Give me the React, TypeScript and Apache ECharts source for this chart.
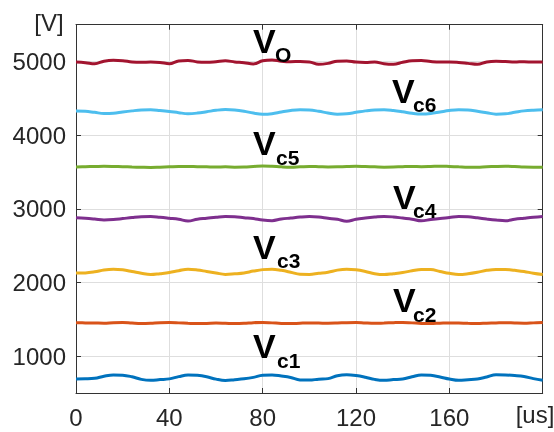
import React, { useEffect, useRef } from "react";
import * as echarts from "echarts";

const timeUs = [0, 4, 8, 12, 16, 20, 24, 28, 32, 36, 40, 44, 48, 52, 56, 60, 64, 68, 72, 76, 80, 84, 88, 92, 96, 100, 104, 108, 112, 116, 120, 124, 128, 132, 136, 140, 144, 148, 152, 156, 160, 164, 168, 172, 176, 180, 184, 188, 192, 196, 200];

const vo = [4992, 4985, 4970, 5005, 5018, 5012, 4995, 4990, 4993, 4988, 4970, 5008, 5015, 4995, 4990, 4998, 5010, 4995, 4985, 4968, 5010, 5022, 5005, 4998, 5000, 4995, 4962, 4975, 5005, 5008, 4992, 4988, 4993, 4970, 4962, 4990, 5012, 5015, 5000, 4992, 4995, 4988, 4975, 4962, 4995, 5005, 5000, 4993, 4998, 4992, 4995];
const vc6 = [4328, 4325, 4310, 4295, 4298, 4315, 4330, 4342, 4345, 4335, 4322, 4305, 4292, 4300, 4318, 4338, 4348, 4342, 4325, 4300, 4285, 4292, 4315, 4335, 4345, 4342, 4325, 4302, 4285, 4290, 4310, 4330, 4343, 4345, 4335, 4318, 4298, 4288, 4295, 4315, 4335, 4345, 4342, 4325, 4305, 4285, 4290, 4310, 4330, 4340, 4345];
const vc5 = [3568, 3572, 3575, 3578, 3576, 3572, 3568, 3565, 3563, 3566, 3570, 3574, 3575, 3572, 3570, 3568, 3570, 3566, 3568, 3575, 3582, 3578, 3570, 3566, 3570, 3575, 3572, 3568, 3570, 3575, 3578, 3574, 3570, 3566, 3568, 3573, 3576, 3572, 3575, 3580, 3576, 3570, 3565, 3566, 3572, 3576, 3578, 3574, 3568, 3565, 3564];
const vc4 = [2878, 2872, 2862, 2850, 2855, 2868, 2882, 2893, 2895, 2885, 2872, 2858, 2835, 2860, 2872, 2885, 2895, 2893, 2880, 2868, 2848, 2840, 2862, 2875, 2888, 2895, 2888, 2872, 2858, 2832, 2858, 2875, 2888, 2897, 2890, 2875, 2860, 2838, 2855, 2870, 2882, 2895, 2892, 2878, 2862, 2848, 2838, 2858, 2872, 2885, 2895];
const vc3 = [2128, 2130, 2145, 2170, 2180, 2172, 2150, 2125, 2108, 2120, 2135, 2160, 2180, 2170, 2150, 2130, 2110, 2118, 2130, 2155, 2175, 2180, 2165, 2140, 2112, 2110, 2125, 2140, 2168, 2180, 2172, 2150, 2120, 2108, 2120, 2135, 2160, 2178, 2175, 2150, 2125, 2108, 2118, 2138, 2165, 2178, 2178, 2165, 2150, 2125, 2108];
const vc2 = [1455, 1452, 1450, 1448, 1455, 1457, 1450, 1445, 1448, 1455, 1456, 1452, 1446, 1442, 1445, 1450, 1447, 1443, 1446, 1455, 1458, 1452, 1445, 1442, 1448, 1452, 1450, 1447, 1450, 1455, 1457, 1450, 1446, 1450, 1455, 1458, 1452, 1445, 1443, 1448, 1452, 1450, 1446, 1443, 1448, 1452, 1455, 1450, 1447, 1452, 1458];
const vc1 = [690, 692, 700, 728, 745, 742, 720, 685, 672, 682, 692, 722, 745, 740, 720, 688, 670, 680, 692, 712, 742, 745, 730, 710, 678, 675, 688, 695, 735, 748, 738, 715, 685, 672, 682, 690, 720, 745, 740, 718, 690, 672, 680, 690, 718, 748, 745, 738, 725, 695, 672];

const seriesNames = ["Vc1", "Vc2", "Vc3", "Vc4", "Vc5", "Vc6", "Vo"];
const seriesData = [vc1, vc2, vc3, vc4, vc5, vc6, vo];
const seriesColors = ["#0072BD", "#D95319", "#EDB120", "#7E2F8E", "#77AC30", "#4DBEEE", "#A2142F"];

const yTicks = [1000, 2000, 3000, 4000, 5000];
const xTicks = [0, 40, 80, 120, 160, 200];

// label annotations: main letter + subscript
const labelSubs = ["c1", "c2", "c3", "c4", "c5", "c6", "O"];

const FONT = "'Liberation Sans', Arial, Helvetica, sans-serif";

export default function App() {
  const ref = useRef<HTMLDivElement>(null);
  useEffect(() => {
    if (!ref.current) return;
    const chart = echarts.init(ref.current, null, { renderer: "svg" });
    const labelPos = [
      { vx: 253, vy: 345.5, sx: 277, sy: 360.5 },
      { vx: 393, vy: 300, sx: 413, sy: 314.5 },
      { vx: 253, vy: 246.5, sx: 277, sy: 260 },
      { vx: 393, vy: 196.5, sx: 413, sy: 210 },
      { vx: 253, vy: 142.5, sx: 276, sy: 157.5 },
      { vx: 392, vy: 91, sx: 413, sy: 104.5 },
      { vx: 253, vy: 40.5, sx: 275, sy: 54.5 },
    ];
    const graphics: any[] = [];
    labelSubs.forEach((sub, i) => {
      const p = labelPos[i];
      graphics.push({
        type: "text", x: p.vx, y: p.vy, z: 100,
        style: { text: "V", font: `bold 34px ${FONT}`, fill: "#000", align: "left", verticalAlign: "middle" },
      });
      graphics.push({
        type: "text", x: p.sx, y: p.sy, z: 100,
        style: { text: sub, font: `bold 21px ${FONT}`, fill: "#000", align: "left", verticalAlign: "middle" },
      });
    });
    graphics.push({
      type: "text", x: 49, y: 22, z: 100,
      style: { text: "[V]", font: `24px ${FONT}`, fill: "#262626", align: "center", verticalAlign: "middle" },
    });
    graphics.push({
      type: "text", x: 535, y: 414, z: 100,
      style: { text: "[us]", font: `24px ${FONT}`, fill: "#262626", align: "center", verticalAlign: "middle" },
    });

    const axisLineStyle = { color: "#333333", width: 1 };
    chart.setOption({
      animation: false,
      grid: { left: 76, right: 11.3, top: 24.7, bottom: 39, containLabel: false },
      xAxis: [
        {
          type: "value", min: 0, max: 200, interval: 40, position: "bottom",
          axisLine: { show: true, onZero: false, lineStyle: axisLineStyle },
          axisTick: { show: true, inside: true, length: 5, lineStyle: axisLineStyle },
          axisLabel: {
            show: true, margin: 12, color: "#262626", fontSize: 24, fontFamily: FONT,
            showMaxLabel: false,
            formatter: (v: number) => (v >= xTicks[xTicks.length - 1] ? "" : String(v)),
          },
          splitLine: { show: true, lineStyle: { color: "#DEDEDE", width: 1 } },
        },
        {
          type: "value", min: 0, max: 200, interval: 40, position: "top",
          axisLine: { show: true, onZero: false, lineStyle: axisLineStyle },
          axisTick: { show: true, inside: true, length: 5, lineStyle: axisLineStyle },
          axisLabel: { show: false },
          splitLine: { show: false },
        },
      ],
      yAxis: [
        {
          type: "value", min: 500, max: 5500, position: "left",
          axisLine: { show: true, onZero: false, lineStyle: axisLineStyle },
          axisTick: { show: true, inside: true, length: 5, lineStyle: axisLineStyle, customValues: yTicks },
          axisLabel: {
            show: true, margin: 10, color: "#262626", fontSize: 24, fontFamily: FONT,
            customValues: yTicks, formatter: (v: number) => String(v),
          },
          splitLine: { show: true, lineStyle: { color: "#DEDEDE", width: 1 } },
        },
        {
          type: "value", min: 500, max: 5500, position: "right",
          axisLine: { show: true, onZero: false, lineStyle: axisLineStyle },
          axisTick: { show: true, inside: true, length: 5, lineStyle: axisLineStyle, customValues: yTicks },
          axisLabel: { show: false, customValues: yTicks },
          splitLine: { show: false },
        },
      ],
      series: seriesNames.map((name, i) => ({
        name,
        type: "line",
        xAxisIndex: 0,
        yAxisIndex: 0,
        data: timeUs.map((t, j) => [t, seriesData[i][j]]),
        showSymbol: false,
        smooth: 0.4,
        lineStyle: { color: seriesColors[i], width: 3 },
        itemStyle: { color: seriesColors[i] },
      })),
      graphic: graphics,
    });
    return () => chart.dispose();
  }, []);
  return <div ref={ref} style={{ position: "fixed", left: 0, top: 0, width: 554, height: 432 }} />;
}
